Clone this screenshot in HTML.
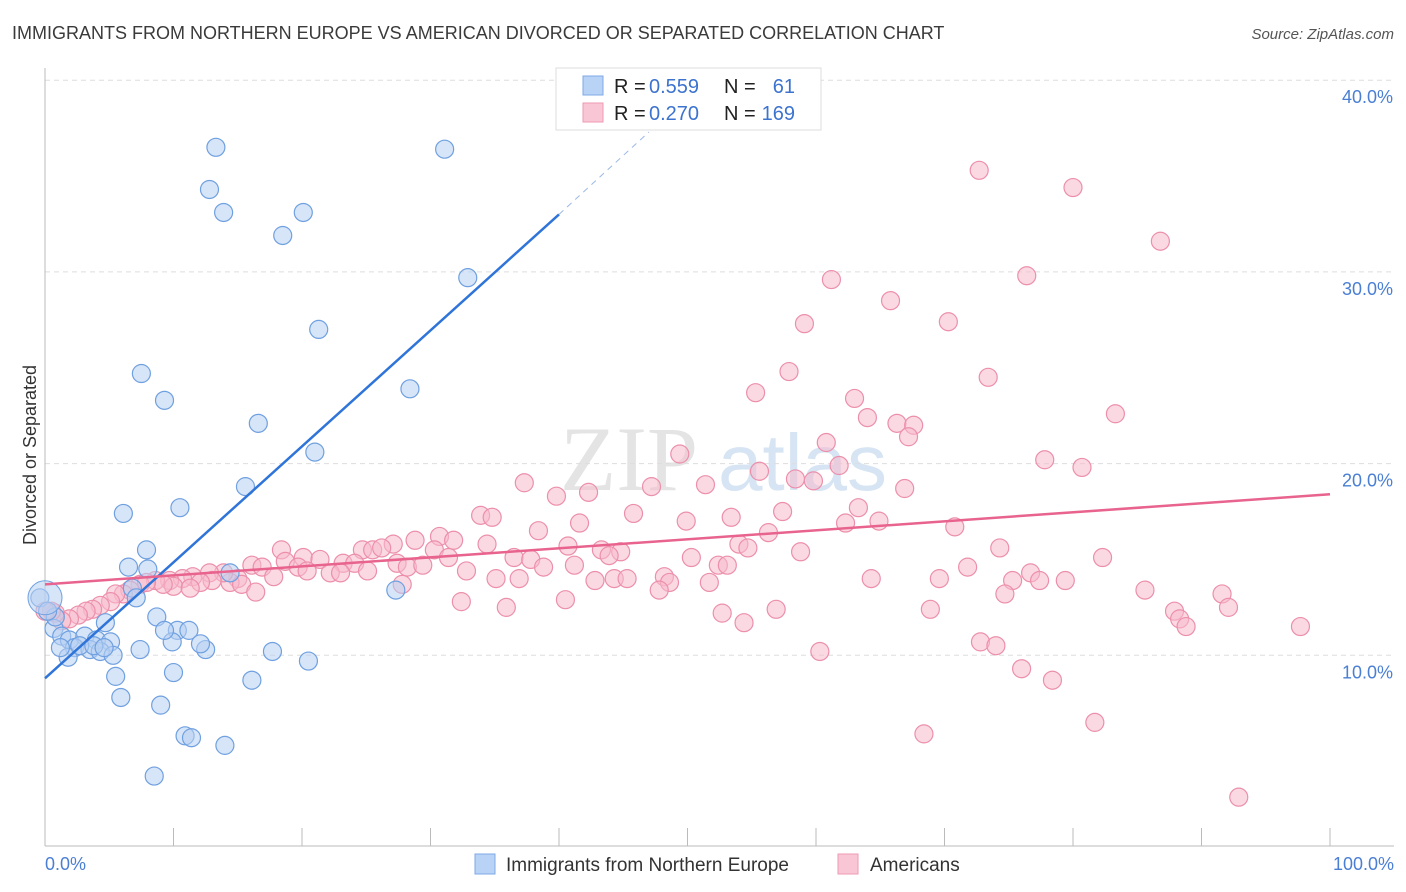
<!DOCTYPE html>
<html><head><meta charset="utf-8"><style>
body{margin:0;background:#fff;font-family:"Liberation Sans",sans-serif;}
svg{display:block}
</style></head><body>
<svg id="chart" width="1406" height="892" xmlns="http://www.w3.org/2000/svg">
<text x="12" y="39" font-size="18" fill="#3a3a3a">IMMIGRANTS FROM NORTHERN EUROPE VS AMERICAN DIVORCED OR SEPARATED CORRELATION CHART</text>
<text x="1394" y="39" font-size="15" fill="#555" text-anchor="end" font-style="italic">Source: ZipAtlas.com</text>
<text x="560" y="490" font-size="92" fill="#e4e4e4" font-family="Liberation Serif,serif">ZIP</text>
<text x="718" y="490" font-size="80" fill="#d6e4f3">atlas</text>
<g id="grid"></g>
<line x1="45" y1="68" x2="45" y2="846" stroke="#bbb"/>
<line x1="45" y1="846" x2="1394" y2="846" stroke="#bbb"/>
<text x="36" y="455" font-size="18" fill="#333" text-anchor="middle" transform="rotate(-90 36 455)">Divorced or Separated</text>
<text x="45" y="870" font-size="18" fill="#4a7fd4">0.0%</text>
<text x="1394" y="870" font-size="18" fill="#4a7fd4" text-anchor="end">100.0%</text>
<g id="pts"></g>
<g id="trends"></g>
<g>
<rect x="556" y="68" width="265" height="62" fill="#fff" stroke="#ddd"/>
<rect x="583" y="76" width="20" height="19" fill="#b9d3f6" stroke="#7ea9e6"/>
<rect x="583" y="103" width="20" height="19" fill="#f8c6d5" stroke="#ef99b3"/>
<text x="614" y="93" font-size="20" fill="#222">R =</text>
<text x="649" y="93" font-size="20" fill="#3c73cf">0.559</text>
<text x="724" y="93" font-size="20" fill="#222">N =</text>
<text x="795" y="93" font-size="20" fill="#3c73cf" text-anchor="end">61</text>
<text x="614" y="120" font-size="20" fill="#222">R =</text>
<text x="649" y="120" font-size="20" fill="#3c73cf">0.270</text>
<text x="724" y="120" font-size="20" fill="#222">N =</text>
<text x="795" y="120" font-size="20" fill="#3c73cf" text-anchor="end">169</text>
</g>
<g>
<rect x="475" y="854" width="20" height="20" fill="#b9d3f6" stroke="#7ea9e6"/>
<text x="506" y="871" font-size="19" fill="#333">Immigrants from Northern Europe</text>
<rect x="838" y="854" width="20" height="20" fill="#f8c6d5" stroke="#ef99b3"/>
<text x="870" y="871" font-size="19" fill="#333">Americans</text>
</g>
</svg>
<script>
const yTicks=[10,20,30,40];
const xTickVals=[0,10,20,30,40,50,60,70,80,90,100];
const blueX=[13.3,31.1,12.8,13.9,20.1,18.5,32.9,21.3,7.5,28.4,9.3,16.6,21.0,15.6,6.1,10.5,7.9,6.5,8.0,14.4,6.8,7.1,27.3,8.7,4.7,10.3,11.2,9.9,0.7,1.3,1.9,3.1,4.0,5.1,2.3,3.5,4.3,5.3,7.4,12.5,17.7,20.5,1.8,5.5,10.0,16.1,5.9,9.0,10.9,11.4,14.0,8.5,-0.4,0.8,0.2,2.7,1.2,12.1,3.8,4.6,9.3];
const blueY=[36.5,36.4,34.3,33.1,33.1,31.9,29.7,27.0,24.7,23.9,23.3,22.1,20.6,18.8,17.4,17.7,15.5,14.6,14.5,14.3,13.5,13.0,13.4,12.0,11.7,11.3,11.3,10.7,11.4,11.0,10.8,11.0,10.8,10.7,10.4,10.3,10.2,10.0,10.3,10.3,10.2,9.7,9.9,8.9,9.1,8.7,7.8,7.4,5.8,5.7,5.3,3.7,13.0,12.0,12.3,10.5,10.4,10.6,10.5,10.4,11.3];
const pinkX=[72.7,80.0,86.8,76.4,61.2,65.8,70.3,59.1,73.4,57.9,55.3,63.0,83.3,64.0,66.3,67.6,67.2,60.8,49.4,77.8,61.8,55.6,80.7,58.4,59.8,66.9,47.2,51.4,37.3,42.3,39.8,63.3,57.4,45.8,33.9,34.8,53.4,49.9,62.3,64.9,70.8,41.6,38.4,56.3,30.7,31.8,34.4,28.8,27.1,24.7,25.5,26.2,30.3,40.7,43.3,44.8,54.0,54.7,74.3,58.8,50.3,52.4,43.9,36.5,37.8,18.4,20.1,21.4,23.2,24.1,31.4,27.4,28.2,29.4,25.1,18.7,19.7,22.2,23.0,20.4,16.1,16.9,17.8,15.0,14.4,13.9,15.3,12.8,13.0,11.5,12.1,10.7,9.7,10.0,8.6,9.2,7.4,7.9,6.6,6.1,5.5,5.1,4.3,3.7,3.2,2.6,1.9,1.3,0.8,0.5,32.8,35.1,36.9,38.8,41.2,42.8,44.3,45.3,48.2,48.6,51.7,53.1,47.8,71.8,69.6,64.3,79.4,82.3,75.3,76.7,77.4,74.7,85.6,91.6,92.1,87.9,88.3,88.8,97.7,68.9,56.9,52.7,54.4,72.8,74.0,76.0,78.4,68.4,81.7,92.9,32.4,35.9,40.5,27.8,60.3,16.4,11.3,0.0];
const pinkY=[35.3,34.4,31.6,29.8,29.6,28.5,27.4,27.3,24.5,24.8,23.7,23.4,22.6,22.4,22.1,22.0,21.4,21.1,20.5,20.2,19.9,19.6,19.8,19.2,19.1,18.7,18.8,18.9,19.0,18.5,18.3,17.7,17.5,17.4,17.3,17.2,17.2,17.0,16.9,17.0,16.7,16.9,16.5,16.4,16.2,16.0,15.8,16.0,15.8,15.5,15.5,15.6,15.5,15.7,15.5,15.4,15.8,15.6,15.6,15.4,15.1,14.7,15.2,15.1,15.0,15.5,15.1,15.0,14.8,14.8,15.1,14.8,14.6,14.7,14.4,14.9,14.6,14.3,14.3,14.4,14.7,14.6,14.1,14.0,13.8,14.3,13.7,14.3,13.9,14.1,13.8,14.0,13.9,13.6,13.9,13.7,13.7,13.8,13.4,13.2,13.2,12.8,12.6,12.4,12.3,12.1,11.9,11.8,12.2,12.3,14.4,14.0,14.0,14.6,14.7,13.9,14.0,14.0,14.1,13.8,13.8,14.7,13.4,14.6,14.0,14.0,13.9,15.1,13.9,14.3,13.9,13.2,13.4,13.2,12.5,12.3,11.9,11.5,11.5,12.4,12.4,12.2,11.7,10.7,10.5,9.3,8.7,5.9,6.5,2.6,12.8,12.5,12.9,13.7,10.2,13.3,13.5,12.3];
const NS='http://www.w3.org/2000/svg';
const X0=45,X1=1330,Y0=847,YS=19.17;
function sx(v){return X0+(X1-X0)*v/100;}
function sy(v){return Y0-v*YS;}
function mk(t,a,p){const e=document.createElementNS(NS,t);for(const k in a)e.setAttribute(k,a[k]);p.appendChild(e);return e;}
const g=document.getElementById('grid');
yTicks.forEach(t=>{
 const l=mk('line',{x1:45,x2:1394,y1:sy(t),y2:sy(t),stroke:'#ddd','stroke-dasharray':'5,4'},g);
 
 
 const tx=mk('text',{x:1393,y:sy(t)+23,'font-size':18,fill:'#4a7fd4','text-anchor':'end'},g);
 tx.textContent=t.toFixed(1)+'%';
 
 
});
xTickVals.forEach(t=>{
 const l=mk('line',{x1:sx(t),x2:sx(t),y1:828,y2:846,stroke:'#bbb'},g);
 
 
});
const P=document.getElementById('pts');
function dots(xs,ys,fill,stroke,name){
 xs.forEach((x,i)=>{
  const c=mk('circle',{cx:sx(x),cy:sy(ys[i]),r:9,fill:fill,'fill-opacity':0.55,stroke:stroke,'stroke-width':1.2},P);
  
  
 });
}
dots(pinkX,pinkY,'#f7b9cc','#ec8fab','american-point');
dots(blueX,blueY,'#b6d0f3','#6fa0e0','immigrant-point');
const big=mk('circle',{cx:45,cy:sy(13.0),r:17,fill:'#b6d0f3','fill-opacity':0.55,stroke:'#6fa0e0'},P);


const T=document.getElementById('trends');
const bl=mk('line',{x1:sx(0),y1:sy(8.8),x2:sx(40),y2:sy(33.0),stroke:'#2f74d8','stroke-width':2.5},T);


const bd=mk('line',{x1:sx(40),y1:sy(33.0),x2:sx(47),y2:sy(37.3),stroke:'#9ab8e6','stroke-width':1,'stroke-dasharray':'6,5'},T);


const pl=mk('line',{x1:sx(0),y1:sy(13.7),x2:sx(100),y2:sy(18.4),stroke:'#e8638e','stroke-width':2.5},T);


</script>
</body></html>
